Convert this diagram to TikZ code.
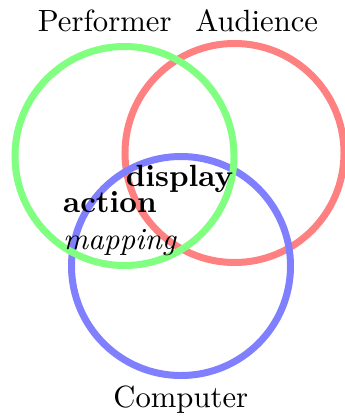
\documentclass[tikz,border=0pt]{standalone}
\begin{document}
\begin{tikzpicture}[x=0.326pt, y=-0.326pt,
  ring/.style={circle, draw, line width=2.28pt, minimum size=71.4pt, inner sep=0pt},
  lbl/.style={inner sep=0pt, anchor=base}]
  \useasboundingbox (0,0) rectangle (344,416);

  % the three sets
  \node[ring, draw=red!50] (audience) at (234.5,153) {};
  \node[ring, draw=blue!50] (computer) at (181,266) {};
  \node[ring, draw=green!50] (performer) at (124.5,156) {};

  \node[lbl] (perfText) at (104.7,32) {Performer};
  \node[lbl] (audText) at (256.7,32) {Audience};
  \node[lbl] (compText) at (180.8,407.5) {Computer};

  % overlaps
  \node[lbl] (display) at (179.5,186.5) {\textbf{display}};
  \node[lbl, anchor=base west] (action) at (62.5,212.7) {\textbf{action}};
  \node[lbl, anchor=base west] (mapping) at ([yshift=-12pt]action.base west) {\textit{mapping}};
\end{tikzpicture}
\end{document}
